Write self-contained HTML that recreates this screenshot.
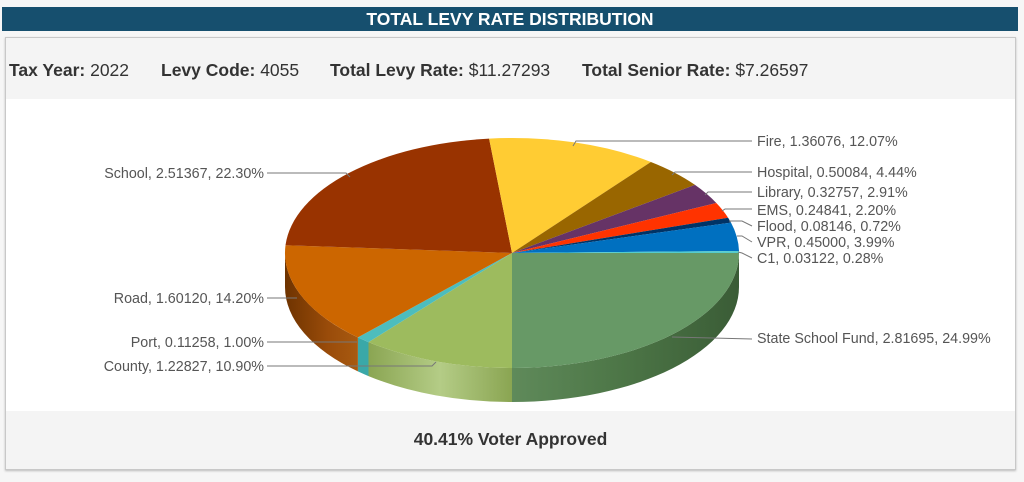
<!DOCTYPE html>
<html><head><meta charset="utf-8"><style>
body{margin:0;width:1024px;height:482px;background:#f6f6f6;font-family:"Liberation Sans",sans-serif;position:relative;overflow:hidden}
.hdr{position:absolute;left:2px;top:7px;width:1016px;height:24px;background:#164f6e;color:#fff;font-weight:bold;font-size:17.5px;text-align:center;line-height:24px}
.box{position:absolute;left:5px;top:37px;width:1009px;height:431px;border:1px solid #c8c8c8;background:#f4f4f4;box-shadow:0 1px 2px #bbb}
.info{position:absolute;left:0;top:22px;font-size:17.5px;color:#333;white-space:nowrap;width:1009px}
.info span{position:absolute;top:0}
.chart{position:absolute;left:0;top:61px;width:1009px;height:312px;background:#fff}
.foot{position:absolute;left:0;top:391px;width:1009px;text-align:center;font-weight:bold;font-size:17.5px;color:#333}
svg{position:absolute;left:0;top:0}
</style></head><body>
<div class="hdr">TOTAL LEVY RATE DISTRIBUTION</div>
<div class="box">
<div class="info"><span style="left:3px"><b>Tax Year:</b> 2022</span><span style="left:155px"><b>Levy Code:</b> 4055</span><span style="left:324px"><b>Total Levy Rate:</b> $11.27293</span><span style="left:576px"><b>Total Senior Rate:</b> $7.26597</span></div>
<div class="chart"></div>
<div class="foot">40.41% Voter Approved</div>
</div>
<svg width="1024" height="482" viewBox="0 0 1024 482">
<defs>
<linearGradient id="gS" x1="512" y1="0" x2="739" y2="0" gradientUnits="userSpaceOnUse"><stop offset="0" stop-color="#5f8a5a"/><stop offset="0.5" stop-color="#4c7546"/><stop offset="1" stop-color="#3a5c36"/></linearGradient>
<linearGradient id="gC" x1="368" y1="0" x2="512" y2="0" gradientUnits="userSpaceOnUse"><stop offset="0" stop-color="#8aa552"/><stop offset="0.5" stop-color="#b4cc86"/><stop offset="1" stop-color="#8aa552"/></linearGradient>
<linearGradient id="gR" x1="285" y1="0" x2="358" y2="0" gradientUnits="userSpaceOnUse"><stop offset="0" stop-color="#6e3300"/><stop offset="0.6" stop-color="#9a4c0a"/><stop offset="1" stop-color="#a85a10"/></linearGradient>
</defs>
<g>
<path d="M739,253 A227,115 0 0 1 512,368 L512,402 A227,115 0 0 0 739,287 Z" fill="url(#gS)"/>
<path d="M512,368 A227,115 0 0 1 368.5,342.1 L368.5,376.1 A227,115 0 0 0 512,402 Z" fill="url(#gC)"/>
<path d="M368.5,342.1 A227,115 0 0 1 357.9,337.4 L357.9,371.4 A227,115 0 0 0 368.5,376.1 Z" fill="#3aa8a8"/>
<path d="M357.9,337.4 A227,115 0 0 1 285,253 L285,287 A227,115 0 0 0 357.9,371.4 Z" fill="url(#gR)"/>
<path d="M512,253 L739,253 A227,115 0 0 1 512,368 Z" fill="#679966"/>
<path d="M512,253 L512,368 A227,115 0 0 1 368.5,342.1 Z" fill="#9dbb5e"/>
<path d="M512,253 L368.5,342.1 A227,115 0 0 1 357.9,337.4 Z" fill="#4dbdbd"/>
<path d="M512,253 L357.9,337.4 A227,115 0 0 1 285.5,245.2 Z" fill="#cc6600"/>
<path d="M512,253 L285.5,245.2 A227,115 0 0 1 489.1,138.6 Z" fill="#993300"/>
<path d="M512,253 L489.1,138.6 A227,115 0 0 1 650.9,162 Z" fill="#ffcc33"/>
<path d="M512,253 L650.9,162 A227,115 0 0 1 695,184.9 Z" fill="#996600"/>
<path d="M512,253 L695,184.9 A227,115 0 0 1 716.3,203 Z" fill="#663366"/>
<path d="M512,253 L716.3,203 A227,115 0 0 1 728.1,217.7 Z" fill="#ff3300"/>
<path d="M512,253 L728.1,217.7 A227,115 0 0 1 731,222.6 Z" fill="#003366"/>
<path d="M512,253 L731,222.6 A227,115 0 0 1 739,251 Z" fill="#0070c0"/>
<path d="M512,253 L739,251 A227,115 0 0 1 739,253 Z" fill="#5cc"/>
</g>
<g stroke="#777" stroke-width="1" fill="none">
<path d="M573,146 L576,141 L752,141"/>
<path d="M672,175 L675,172 L752,172"/>
<path d="M705,195 L708,192 L752,192"/>
<path d="M722,211 L725,209 L752,209"/>
<path d="M729,221 L742,221 L752,226"/>
<path d="M737,236 L742,236 L752,242"/>
<path d="M738,252 L742,253 L752,258"/>
<path d="M672,337 L752,339"/>
<path d="M267,173 L346,173 L350,177"/>
<path d="M267,298 L297,298"/>
<path d="M267,342 L357,342"/>
<path d="M267,366 L432,366 L436,362"/>
</g>
<g font-family="Liberation Sans, sans-serif" font-size="14.3" fill="#555">
<text x="757" y="146">Fire, 1.36076, 12.07%</text>
<text x="757" y="177">Hospital, 0.50084, 4.44%</text>
<text x="757" y="197">Library, 0.32757, 2.91%</text>
<text x="757" y="215">EMS, 0.24841, 2.20%</text>
<text x="757" y="231">Flood, 0.08146, 0.72%</text>
<text x="757" y="247">VPR, 0.45000, 3.99%</text>
<text x="757" y="263">C1, 0.03122, 0.28%</text>
<text x="757" y="343">State School Fund, 2.81695, 24.99%</text>
<g text-anchor="end">
<text x="264" y="178">School, 2.51367, 22.30%</text>
<text x="264" y="303">Road, 1.60120, 14.20%</text>
<text x="264" y="347">Port, 0.11258, 1.00%</text>
<text x="264" y="371">County, 1.22827, 10.90%</text>
</g>
</g>
</svg>
</body></html>
